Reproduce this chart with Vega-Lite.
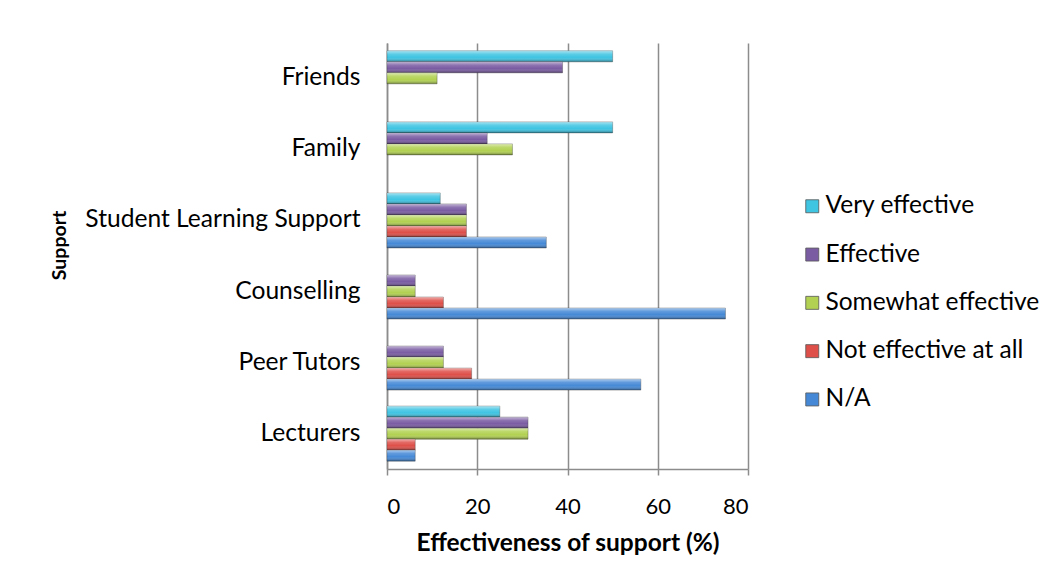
{
  "$schema": "https://vega.github.io/schema/vega-lite/v6.json",
  "autosize": {"type": "none"},
  "padding": {"left": 387, "top": 43, "right": 311, "bottom": 116},
  "width": 361,
  "height": 426,
  "background": "white",
  "config": {
    "font": "Lato",
    "view": {"stroke": null},
    "axis": {"labelColor": "#000", "titleColor": "#000", "labelFont": "Lato", "titleFont": "Lato"}
  },
  "data": {
    "values": [
      {"support": "Friends", "rating": "Very effective", "pct": 50.0},
      {"support": "Friends", "rating": "Effective", "pct": 38.9},
      {"support": "Friends", "rating": "Somewhat effective", "pct": 11.1},
      {"support": "Friends", "rating": "Not effective at all", "pct": 0},
      {"support": "Friends", "rating": "N/A", "pct": 0},
      {"support": "Family", "rating": "Very effective", "pct": 50.0},
      {"support": "Family", "rating": "Effective", "pct": 22.2},
      {"support": "Family", "rating": "Somewhat effective", "pct": 27.8},
      {"support": "Family", "rating": "Not effective at all", "pct": 0},
      {"support": "Family", "rating": "N/A", "pct": 0},
      {"support": "Student Learning Support", "rating": "Very effective", "pct": 11.8},
      {"support": "Student Learning Support", "rating": "Effective", "pct": 17.6},
      {"support": "Student Learning Support", "rating": "Somewhat effective", "pct": 17.6},
      {"support": "Student Learning Support", "rating": "Not effective at all", "pct": 17.6},
      {"support": "Student Learning Support", "rating": "N/A", "pct": 35.3},
      {"support": "Counselling", "rating": "Very effective", "pct": 0},
      {"support": "Counselling", "rating": "Effective", "pct": 6.25},
      {"support": "Counselling", "rating": "Somewhat effective", "pct": 6.25},
      {"support": "Counselling", "rating": "Not effective at all", "pct": 12.5},
      {"support": "Counselling", "rating": "N/A", "pct": 75.0},
      {"support": "Peer Tutors", "rating": "Very effective", "pct": 0},
      {"support": "Peer Tutors", "rating": "Effective", "pct": 12.5},
      {"support": "Peer Tutors", "rating": "Somewhat effective", "pct": 12.5},
      {"support": "Peer Tutors", "rating": "Not effective at all", "pct": 18.75},
      {"support": "Peer Tutors", "rating": "N/A", "pct": 56.25},
      {"support": "Lecturers", "rating": "Very effective", "pct": 25.0},
      {"support": "Lecturers", "rating": "Effective", "pct": 31.25},
      {"support": "Lecturers", "rating": "Somewhat effective", "pct": 31.25},
      {"support": "Lecturers", "rating": "Not effective at all", "pct": 6.25},
      {"support": "Lecturers", "rating": "N/A", "pct": 6.25}
    ]
  },
  "encoding": {
    "x": {
      "field": "pct",
      "type": "quantitative",
      "scale": {"domain": [0, 80], "nice": false},
      "axis": {
        "values": [0, 20, 40, 60, 80],
        "title": "Effectiveness of support (%)",
        "titleFontSize": 24.5,
        "titleFontWeight": "bold",
        "titleBaseline": "middle",
        "titleY": 74,
        "labelFontSize": 22,
        "labelPadding": 21,
        "tickSize": 6,
        "tickColor": "#8c8c8c",
        "tickWidth": 1.5,
        "domainColor": "#8c8c8c",
        "domainWidth": 1.5,
        "grid": true,
        "gridColor": "#8c8c8c",
        "gridWidth": 1.5
      }
    },
    "y": {
      "field": "support",
      "type": "nominal",
      "sort": ["Friends", "Family", "Student Learning Support", "Counselling", "Peer Tutors", "Lecturers"],
      "scale": {"paddingInner": 0.225, "paddingOuter": 0.11},
      "axis": {
        "title": "Support",
        "titleFontSize": 19.5,
        "titleFontWeight": "bold",
        "titleBaseline": "middle",
        "titleX": -328,
        "titleY": 202,
        "labelFontSize": 24.6,
        "labelLimit": 0,
        "labelPadding": 27,
        "ticks": false,
        "tickSize": 0,
        "domainColor": "#8c8c8c",
        "domainWidth": 1.5,
        "grid": false
      }
    },
    "yOffset": {
      "field": "rating",
      "type": "nominal",
      "sort": ["Very effective", "Effective", "Somewhat effective", "Not effective at all", "N/A"],
      "scale": {"paddingInner": 0, "paddingOuter": 0}
    }
  },
  "layer": [
    {
      "transform": [{"filter": "datum.pct > 0"}],
      "mark": {"type": "bar", "stroke": "#3a3a3a", "strokeWidth": 0.6, "strokeOpacity": 0.6},
      "encoding": {
        "color": {
          "field": "rating",
          "type": "nominal",
          "sort": ["Very effective", "Effective", "Somewhat effective", "Not effective at all", "N/A"],
          "scale": {
            "domain": ["Very effective", "Effective", "Somewhat effective", "Not effective at all", "N/A"],
            "range": ["#3fc4e2", "#7a5ca3", "#b2d152", "#de4f49", "#4589d6"]
          },
          "legend": {
            "title": null,
            "orient": "none",
            "legendX": 413,
            "legendY": 151,
            "padding": 0,
            "labelFont": "Lato",
            "labelFontSize": 24.5,
            "labelLimit": 0,
            "labelColor": "#000",
            "labelOffset": 1,
            "rowPadding": 23.3,
            "symbolType": "square",
            "symbolSize": 169,
            "symbolStrokeColor": "#555",
            "symbolStrokeWidth": 0.8
          }
        }
      }
    },
    {
      "transform": [{"filter": "datum.pct > 0"}],
      "mark": {
        "type": "bar",
        "fill": {
          "gradient": "linear",
          "x1": 0, "y1": 0, "x2": 0, "y2": 1,
          "stops": [
            {"offset": 0, "color": "rgba(255,255,255,0.55)"},
            {"offset": 0.3, "color": "rgba(255,255,255,0.15)"},
            {"offset": 0.6, "color": "rgba(255,255,255,0)"},
            {"offset": 1, "color": "rgba(0,0,0,0.4)"}
          ]
        }
      }
    }
  ]
}
